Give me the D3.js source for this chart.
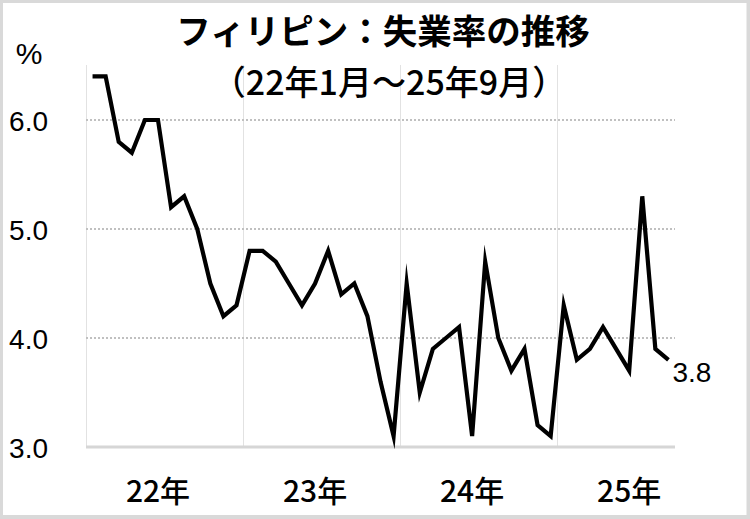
<!DOCTYPE html>
<html>
<head>
<meta charset="utf-8">
<script src="https://cdn.jsdelivr.net/npm/d3@7"></script>
<style>
  html, body { margin: 0; padding: 0; background: #fff; }
  svg { display: block; }
</style>
</head>
<body>
<svg id="chart" width="750" height="519"></svg>
<script>
// ---- data ----
const years = ["22", "23", "24", "25"];
const monthsInYear = [12, 12, 12, 9];
const yearLabels = ["22年", "23年", "24年", "25年"];
const rate = [
  6.4, 6.4, 5.8, 5.7, 6.0, 6.0, 5.2, 5.3, 5.0, 4.5, 4.2, 4.3,
  4.8, 4.8, 4.7, 4.5, 4.3, 4.5, 4.8, 4.4, 4.5, 4.2, 3.6, 3.1,
  4.5, 3.5, 3.9, 4.0, 4.1, 3.1, 4.7, 4.0, 3.7, 3.9, 3.2, 3.1,
  4.3, 3.8, 3.9, 4.1, 3.9, 3.7, 5.3, 3.9, 3.8
];
const yTicks = [3.0, 4.0, 5.0, 6.0];
const yDomain = [3.0, 6.5];
const titleText = "フィリピン：失業率の推移";
const subtitleText = "（22年1月～25年9月）";
const unitText = "%";
const lastLabel = "3.8";

// categories (year-month)
const categories = [];
years.forEach((y, i) => {
  for (let m = 1; m <= monthsInYear[i]; m++) categories.push(y + "-" + m);
});
const data = categories.map((c, i) => ({ cat: c, v: rate[i] }));

// ---- layout ----
const W = 750, H = 519;
const plot = { left: 86, right: 675, top: 65.5, bottom: 447 };
const svg = d3.select("#chart");

// frame
svg.append("rect").attr("x", 0).attr("y", 0).attr("width", W).attr("height", H).attr("fill", "#d9d9d9");
svg.append("rect").attr("x", 3).attr("y", 3).attr("width", W - 6.5).attr("height", H - 7).attr("fill", "#ffffff");

const x = d3.scaleBand().domain(categories).range([plot.left, plot.right]).padding(0);
const y = d3.scaleLinear().domain(yDomain).range([plot.bottom, plot.top]);
const cx = c => x(c) + x.bandwidth() / 2;

// vertical grid lines (year boundaries) + left axis line
const yearStarts = years.map(yy => yy + "-1");
svg.append("g").selectAll("line").data(yearStarts).join("line")
  .attr("x1", d => Math.round(x(d)) + 0.5).attr("x2", d => Math.round(x(d)) + 0.5)
  .attr("y1", plot.top).attr("y2", plot.bottom)
  .attr("stroke", "#c4c4c4").attr("stroke-width", 1).attr("stroke-dasharray", "1,1");

// horizontal grid lines
svg.append("g").selectAll("line").data(yTicks.filter(t => t > yDomain[0])).join("line")
  .attr("x1", plot.left).attr("x2", plot.right)
  .attr("y1", d => y(d)).attr("y2", d => y(d))
  .attr("stroke", "#c0c0c0").attr("stroke-width", 2).attr("stroke-dasharray", "2,2");

// bottom axis line
svg.append("line")
  .attr("x1", plot.left).attr("x2", plot.right)
  .attr("y1", y(yDomain[0])).attr("y2", y(yDomain[0]))
  .attr("stroke", "#d6d6d6").attr("stroke-width", 3);

// y tick labels
const yAxis = d3.axisLeft(y).tickValues(yTicks).tickFormat(d3.format(".1f")).tickSize(0).tickPadding(0);
const ya = svg.append("g").attr("transform", "translate(48,0)").call(yAxis);
ya.select(".domain").remove();
ya.selectAll("text")
  .attr("font-family", "'Liberation Sans', Arial, sans-serif")
  .attr("font-size", 28).attr("fill", "#000").attr("dy", "0.36em");

// x labels (centered on June of each year)
const xLabelCats = years.map(yy => yy + "-6");
svg.append("g").selectAll("text").data(xLabelCats).join("text")
  .attr("x", (d) => cx(d))
  .attr("y", 502)
  .attr("text-anchor", "middle")
  .attr("font-family", "'Noto Sans CJK JP', sans-serif")
  .attr("font-size", 30).attr("font-weight", 500)
  .attr("fill", "#000")
  .text((d, i) => yearLabels[i]);

// line
const line = d3.line().x(d => cx(d.cat)).y(d => y(d.v)).curve(d3.curveLinear);
svg.append("path").datum(data)
  .attr("d", line).attr("fill", "none")
  .attr("stroke", "#000").attr("stroke-width", 4.2)
  .attr("stroke-linejoin", "miter").attr("stroke-miterlimit", 10);

// last value label
const last = data[data.length - 1];
svg.append("text")
  .attr("x", cx(last.cat) + 4)
  .attr("y", y(last.v) + 22)
  .attr("font-family", "'Liberation Sans', Arial, sans-serif")
  .attr("font-size", 28).attr("fill", "#000")
  .text(lastLabel);

// unit
svg.append("text")
  .attr("x", 29).attr("y", 64).attr("text-anchor", "middle")
  .attr("font-family", "'Liberation Sans', Arial, sans-serif")
  .attr("font-size", 30).attr("fill", "#000")
  .text(unitText);

// titles
svg.append("text")
  .attr("x", 383).attr("y", 44).attr("text-anchor", "middle")
  .attr("font-family", "'Noto Sans CJK JP', sans-serif")
  .attr("font-size", 34.5).attr("font-weight", "bold").attr("fill", "#000")
  .text(titleText);
svg.append("text")
  .attr("x", 389).attr("y", 95).attr("text-anchor", "middle")
  .attr("font-family", "'Noto Sans CJK JP', sans-serif")
  .attr("font-size", 34).attr("font-weight", 500).attr("fill", "#000")
  .text(subtitleText);
</script>
</body>
</html>
